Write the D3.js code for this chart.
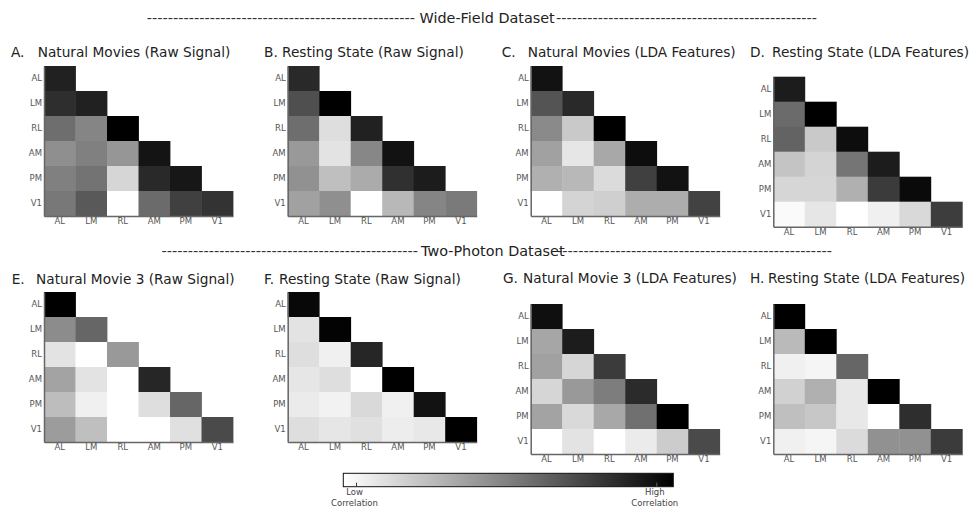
<!DOCTYPE html>
<html>
<head>
<meta charset="utf-8">
<script src="https://cdn.jsdelivr.net/npm/d3@7"></script>
<style>
  body { margin: 0; background: #fff; }
  svg { display: block; font-family: "DejaVu Sans", sans-serif; }
</style>
</head>
<body>
<script>
// brain areas, same order on both axes
const AREAS = ["AL", "LM", "RL", "AM", "PM", "V1"];

// lower-triangle correlation matrices (0 = low, 1 = high), rows follow AREAS
const WF_MOVIES_RAW = [
    [0.87],
    [0.82, 0.87],
    [0.57, 0.48, 1.00],
    [0.44, 0.50, 0.41, 0.92],
    [0.50, 0.55, 0.16, 0.84, 0.91],
    [0.53, 0.65, 0.00, 0.58, 0.75, 0.80]
];
const WF_REST_RAW = [
    [0.84],
    [0.69, 1.00],
    [0.57, 0.13, 0.87],
    [0.40, 0.11, 0.47, 0.93],
    [0.43, 0.25, 0.33, 0.81, 0.89],
    [0.37, 0.44, 0.00, 0.28, 0.48, 0.52]
];
const WF_MOVIES_LDA = [
    [0.93],
    [0.67, 0.84],
    [0.46, 0.21, 1.00],
    [0.37, 0.10, 0.34, 0.95],
    [0.31, 0.28, 0.14, 0.75, 0.93],
    [0.00, 0.17, 0.19, 0.32, 0.32, 0.74]
];
const WF_REST_LDA = [
    [0.89],
    [0.58, 1.00],
    [0.61, 0.21, 0.95],
    [0.23, 0.17, 0.54, 0.89],
    [0.16, 0.16, 0.31, 0.77, 0.96],
    [0.02, 0.10, 0.00, 0.06, 0.15, 0.76]
];
const TP_MOVIE3_RAW = [
    [1.00],
    [0.45, 0.60],
    [0.11, 0.00, 0.40],
    [0.36, 0.11, 0.00, 0.85],
    [0.26, 0.06, 0.00, 0.13, 0.60],
    [0.39, 0.25, 0.00, 0.00, 0.12, 0.71]
];
const TP_REST_RAW = [
    [0.97],
    [0.11, 0.99],
    [0.13, 0.06, 0.85],
    [0.10, 0.13, 0.00, 1.00],
    [0.08, 0.05, 0.15, 0.06, 0.93],
    [0.13, 0.10, 0.12, 0.07, 0.09, 1.00]
];
const TP_MOVIE3_LDA = [
    [0.94],
    [0.35, 0.89],
    [0.37, 0.16, 0.77],
    [0.16, 0.40, 0.51, 0.83],
    [0.36, 0.15, 0.34, 0.56, 1.00],
    [0.00, 0.11, 0.00, 0.08, 0.20, 0.71]
];
const TP_REST_LDA = [
    [1.00],
    [0.27, 1.00],
    [0.06, 0.04, 0.60],
    [0.18, 0.31, 0.09, 1.00],
    [0.25, 0.22, 0.09, 0.00, 0.82],
    [0.06, 0.04, 0.14, 0.43, 0.43, 0.77]
];

const MATRICES = [WF_MOVIES_RAW, WF_REST_RAW, WF_MOVIES_LDA, WF_REST_LDA,
                  TP_MOVIE3_RAW, TP_REST_RAW, TP_MOVIE3_LDA, TP_REST_LDA];
const PANEL_LETTERS = ["A.", "B.", "C.", "D.", "E.", "F.", "G.", "H."];
const PANEL_TITLES = [
    "Natural Movies (Raw Signal)", "Resting State (Raw Signal)",
    "Natural Movies (LDA Features)", "Resting State (LDA Features)",
    "Natural Movie 3 (Raw Signal)", "Resting State (Raw Signal)",
    "Natural Movie 3 (LDA Features)", "Resting State (LDA Features)"
];
const HEADERS = ["Wide-Field Dataset", "Two-Photon Dataset"];
const CBAR_TICKS = [0.04, 0.95];
const CBAR_LABELS = [["Low", "Correlation"], ["High", "Correlation"]];

// ---- layout (pixels) ----
const W = 977, H = 509;
const CELL_W = 31.5, CELL_H = 25;
const panels = [
    {x: 44,    y: 66,   lx: 11,    tx: 37.7, ty: 57},
    {x: 287.7, y: 66,   lx: 264,   tx: 282,  ty: 57},
    {x: 530.7, y: 66,   lx: 501.7, tx: 527.7, ty: 57},
    {x: 773.3, y: 76.7, lx: 750,   tx: 772,  ty: 57},
    {x: 44,    y: 292,  lx: 11.7,  tx: 36,   ty: 284},
    {x: 287.7, y: 292,  lx: 264,   tx: 279,  ty: 284},
    {x: 530.7, y: 304,  lx: 503,   tx: 523,  ty: 283},
    {x: 773.3, y: 304,  lx: 750,   tx: 768,  ty: 283}
];
const headerPos = [
    {y: 23, l0: 146.7, l1: 415, tx: 419.5, r0: 556, r1: 817},
    {y: 256, l0: 161.6, l1: 418, tx: 421, r0: 557, r1: 832}
];
const cbar = {x0: 343.3, x1: 673.3, y0: 473.3, y1: 486.7};

const color = d3.scaleLinear().domain([0, 1]).range(["#ffffff", "#000000"]);

const svg = d3.select("body").append("svg")
    .attr("width", W)
    .attr("height", H);

// section headers: "------ Name ------"
const HEADER_SIZE = 14.4;
const DASH_ADV = 0.361 * HEADER_SIZE;   // DejaVu hyphen advance
HEADERS.forEach(function(name, i) {
    const p = headerPos[i];
    const g = svg.append("g").attr("class", "header");
    [[p.l0, p.l1], [p.r0, p.r1]].forEach(function(seg) {
        const len = seg[1] - seg[0];
        g.append("text")
            .attr("x", seg[0])
            .attr("y", p.y)
            .attr("textLength", len)
            .attr("lengthAdjust", "spacingAndGlyphs")
            .style("font-size", HEADER_SIZE + "px")
            .attr("fill", "#333")
            .text("-".repeat(Math.floor(len / DASH_ADV)));
    });
    g.append("text")
        .attr("x", p.tx)
        .attr("y", p.y)
        .style("font-size", HEADER_SIZE + "px")
        .attr("fill", "#222")
        .text(name);
});

// one heatmap per panel
MATRICES.forEach(function(mat, i) {
    const p = panels[i];
    const g = svg.append("g").attr("class", "panel");

    const x = d3.scaleBand().domain(AREAS).range([p.x, p.x + CELL_W * AREAS.length]);
    const y = d3.scaleBand().domain(AREAS).range([p.y, p.y + CELL_H * AREAS.length]);

    const cells = [];
    mat.forEach(function(row, r) {
        row.forEach(function(v, c) {
            cells.push({row: AREAS[r], col: AREAS[c], v: v});
        });
    });

    g.selectAll("rect")
        .data(cells)
        .enter()
        .append("rect")
        .attr("x", function(d) { return x(d.col); })
        .attr("y", function(d) { return y(d.row); })
        .attr("width", x.bandwidth() + 0.4)
        .attr("height", y.bandwidth() + 0.4)
        .attr("fill", function(d) { return color(d.v); });

    // left axis
    const yAxis = g.append("g")
        .attr("transform", "translate(" + p.x + ",0)")
        .call(d3.axisLeft(y).tickSize(0).tickSizeOuter(0).tickPadding(2));

    // bottom axis
    const xAxis = g.append("g")
        .attr("transform", "translate(0," + (p.y + CELL_H * AREAS.length) + ")")
        .call(d3.axisBottom(x).tickSize(0).tickSizeOuter(0).tickPadding(2));

    [yAxis, xAxis].forEach(function(ax) {
        ax.select(".domain").attr("stroke", "#666").attr("stroke-width", 1.5);
        ax.selectAll("text")
            .attr("fill", "#555")
            .style("font-size", "8.5px")
            .style("font-family", "DejaVu Sans");
    });

    // title
    g.append("text")
        .attr("x", p.lx)
        .attr("y", p.ty)
        .style("font-size", "13.7px")
        .attr("fill", "#222")
        .text(PANEL_LETTERS[i]);
    g.append("text")
        .attr("x", p.tx)
        .attr("y", p.ty)
        .style("font-size", "13.7px")
        .attr("fill", "#222")
        .text(PANEL_TITLES[i]);
});

// colour bar
const cscale = d3.scaleLinear().domain([0, 1]).range([cbar.x0, cbar.x1]);
const grad = svg.append("defs").append("linearGradient")
    .attr("id", "cbar-grad")
    .attr("x1", "0%").attr("x2", "100%")
    .attr("y1", "0%").attr("y2", "0%");
d3.range(0, 1.0001, 0.1).forEach(function(t) {
    grad.append("stop")
        .attr("offset", (t * 100) + "%")
        .attr("stop-color", color(t));
});

svg.append("rect")
    .attr("x", cbar.x0)
    .attr("y", cbar.y0)
    .attr("width", cbar.x1 - cbar.x0)
    .attr("height", cbar.y1 - cbar.y0)
    .attr("fill", "url(#cbar-grad)")
    .attr("stroke", "#111")
    .attr("stroke-width", 1);

const cg = svg.append("g").attr("class", "cbar-ticks");
CBAR_TICKS.forEach(function(t, i) {
    const tx = cscale(t);
    cg.append("line")
        .attr("x1", tx).attr("x2", tx)
        .attr("y1", cbar.y1 - 4).attr("y2", cbar.y1)
        .attr("stroke", i === 0 ? "#333" : "#666")
        .attr("stroke-width", 1);
    CBAR_LABELS[i].forEach(function(line, k) {
        cg.append("text")
            .attr("x", tx - 2)
            .attr("y", 495 + k * 10.7)
            .attr("text-anchor", "middle")
            .style("font-size", "8.5px")
            .attr("fill", "#444")
            .text(line);
    });
});
</script>
</body>
</html>
